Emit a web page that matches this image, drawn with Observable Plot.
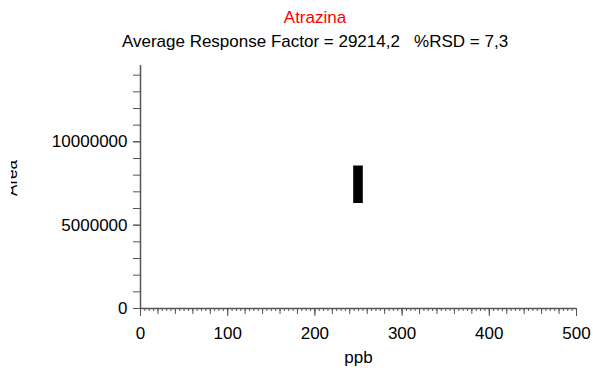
<!DOCTYPE html>
<html><head><meta charset="utf-8">
<script src="https://cdn.jsdelivr.net/npm/d3@7"></script>
<script src="https://cdn.jsdelivr.net/npm/@observablehq/plot@0.6"></script>
<style>
body{margin:0;background:#fff;}
#wrap{width:593px;font-family:"Liberation Sans",Arial,sans-serif;}
.t{text-align:center;font-size:17px;line-height:24px;white-space:pre;color:#000;padding-left:37px;}
</style></head><body><div id="wrap">
<div class="t" id="title" style="color:#ff0000;padding-top:6px"></div>
<div class="t" id="sub"></div>
<div id="chart"></div></div>
<script>
const titleText = "Atrazina";
const subtitleText = "Average Response Factor = 29214,2   %RSD = 7,3";
const xLabel = "ppb";
const yLabel = "Area";
// calibration replicate spread at one concentration (ppb)
const concLow = [244.5];
const concHigh = [255.5];
const areaLow = [6300000];
const areaHigh = [8550000];
const xTickLabels = [0, 100, 200, 300, 400, 500];
const yTickLabels = [0, 5000000, 10000000];

document.getElementById("title").textContent = titleText;
document.getElementById("sub").textContent = subtitleText;

const bars = concLow.map((c, i) => ({x1: c, x2: concHigh[i], y1: areaLow[i], y2: areaHigh[i]}));
const font = '"Liberation Sans",Arial,sans-serif';
const axisColor = "#555";

const yLabelMark = (index, scales, values, dims) => {
  const g = d3.create("svg:g");
  g.append("clipPath").attr("id", "ylabclip")
    .append("rect").attr("x", 11).attr("y", 0).attr("width", 20).attr("height", dims.height);
  g.append("g").attr("clip-path", "url(#ylabclip)")
    .append("text")
    .attr("transform", "translate(17,124) rotate(-90)")
    .attr("text-anchor", "middle")
    .attr("font-size", 17)
    .attr("fill", "black")
    .text(yLabel);
  return g.node();
};

const chart = Plot.plot({
  width: 593,
  height: 321,
  marginLeft: 140,
  marginRight: 17,
  marginTop: 11,
  marginBottom: 67,
  x: {domain: [0, 500]},
  y: {domain: [0, 14580000]},
  style: {fontFamily: font, fontSize: "17px", color: "black", background: "white"},
  marks: [
    Plot.rect(bars, {x1: "x1", x2: "x2", y1: "y1", y2: "y2", fill: "black"}),
    Plot.axisX({ticks: d3.range(0, 501, 5), tickSize: 3, stroke: axisColor, fill: "none", label: null}),
    Plot.axisX({ticks: d3.range(0, 501, 20), tickSize: 6, stroke: axisColor, fill: "none", label: null}),
    Plot.axisX({ticks: xTickLabels, tickSize: 8, tickPadding: 10, stroke: axisColor, fill: "black", label: null, tickFormat: d => String(d)}),
    Plot.axisY({ticks: d3.range(0, 14500001, 1000000), tickSize: 7, stroke: axisColor, fill: "none", label: null}),
    Plot.axisY({ticks: yTickLabels, tickSize: 7, tickPadding: 6, stroke: axisColor, fill: "black", label: null, tickFormat: d => String(d)}),
    Plot.ruleY([0], {stroke: axisColor, strokeWidth: 1.5}),
    Plot.ruleX([0], {stroke: axisColor, strokeWidth: 1.5}),
    Plot.text([xLabel], {x: 250, frameAnchor: "bottom", dy: 54, text: d => d, fill: "black"}),
    yLabelMark
  ]
});
document.getElementById("chart").appendChild(chart);
</script></body></html>
